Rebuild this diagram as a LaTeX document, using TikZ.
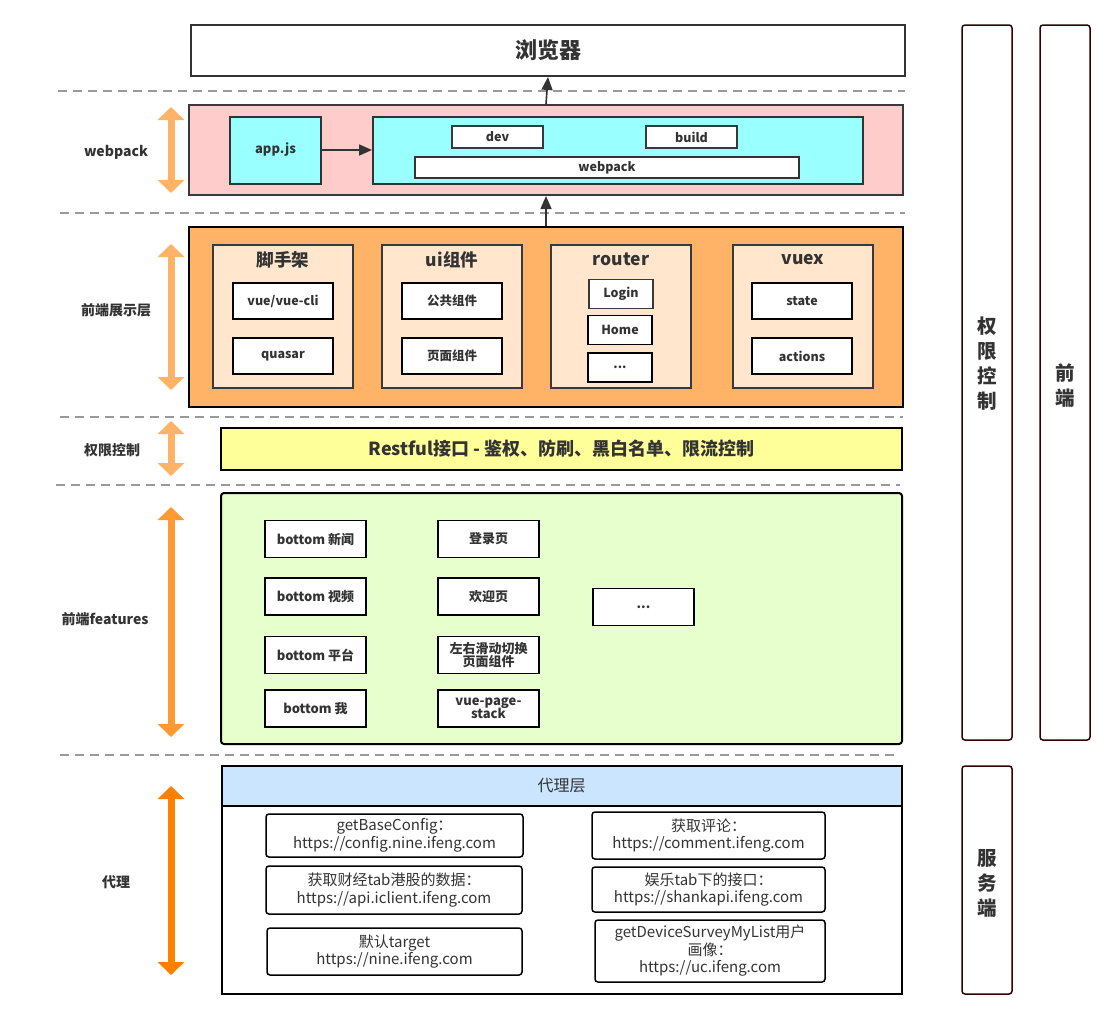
\documentclass[tikz,border=0pt]{standalone}
\usepackage{fontspec}
\setmainfont{Noto Sans CJK SC}
\usetikzlibrary{arrows.meta}
\definecolor{ink}{HTML}{333333}
\definecolor{pinkbg}{HTML}{FFCCCC}
\definecolor{cyanbg}{HTML}{99FFFF}
\definecolor{orangebg}{HTML}{FFB366}
\definecolor{peach}{HTML}{FFE6CC}
\definecolor{lemon}{HTML}{FFFF99}
\definecolor{lime}{HTML}{E6FFCC}
\definecolor{sky}{HTML}{CCE5FF}
\definecolor{maroon}{HTML}{330000}
\definecolor{edgegray}{HTML}{36393D}
\definecolor{lanemid}{HTML}{FF9933}
\definecolor{lanedark}{HTML}{FF8000}
\tikzset{
  wh/.style 2 args={minimum width=#1pt,minimum height=#2pt},
  fs/.style 2 args={font=\bfseries\fontsize{#1}{#2}\selectfont},
  wbox/.style={draw=black,line width=1.8pt,fill=white},
  grpbox/.style={draw=edgegray,line width=1.5pt,fill=peach},
  proxbox/.style={draw=black,line width=1.5pt,fill=white,rounded corners=3pt,font=\fontsize{15}{17.5}\selectfont},
  sidebox/.style={draw=maroon,line width=1.5pt,fill=white,rounded corners=3pt},
  sep/.style={draw=gray!80,line width=1.2pt,dash pattern=on 9pt off 6pt},
  lane/.style={line width=7pt,draw=#1,{Triangle[width=26pt,length=13pt]}-{Triangle[width=26pt,length=13pt]}},
  arr/.style={draw=ink,line width=1.6pt,-{Triangle[width=11pt,length=13pt]}}
}
\begin{document}
\begin{tikzpicture}[x=1pt,y=-1pt,every node/.style={text=ink,inner sep=0pt,align=center}]
\useasboundingbox (0,0) rectangle (1115,1018);

\draw[sep] (58,91) -- (905,91);
\draw[sep] (60,213) -- (905,213);
\draw[sep] (60,417) -- (903,417);
\draw[sep] (56,485) -- (900,485);
\draw[sep] (60,755) -- (895,755);

\node[fs={14}{17}] (lwebpack) at (116,152) {webpack};
\node[fs={14}{17}] (lshow) at (116,310) {前端展示层};
\node[fs={14}{17}] (lauth) at (112,450) {权限控制};
\node[fs={14}{17}] (lfeat) at (105,619) {前端features};
\node[fs={14}{17}] (lproxy) at (116,882) {代理};
\draw[lane=orangebg] (171,107) -- (171,193);
\draw[lane=orangebg] (171,244) -- (171,390);
\draw[lane=orangebg] (171,421) -- (171,476);
\draw[lane=lanemid] (171,507) -- (171,737);
\draw[lane=lanedark] (171,786) -- (171,975);

\node[wbox,draw=ink,line width=2pt,wh={714}{51},fs={22}{26}] (browser) at (548,50.5) {浏览器};

\node[draw=edgegray,line width=2pt,fill=pinkbg,wh={714}{90}] (pack) at (546,150) {};
\node[draw=ink,line width=2pt,fill=cyanbg,wh={91}{67},fs={13}{15}] (appjs) at (275.5,150) {app.js};
\node[draw=ink,line width=2pt,fill=cyanbg,wh={490}{67}] (tools) at (618,150) {};
\node[draw=edgegray,line width=1.8pt,fill=white,wh={91}{22},fs={12.5}{15}] (dev) at (497.5,137) {dev};
\node[draw=edgegray,line width=1.8pt,fill=white,wh={91}{22},fs={12.5}{15}] (build) at (691.5,137) {build};
\node[wbox,draw=ink,wh={384}{21},fs={12.5}{15}] (wpin) at (607,167.5) {webpack};
\draw[arr] (appjs) -- (tools);
\draw[arr] (pack.north) -- (browser.south);

\node[draw=black,line width=2.5pt,fill=orangebg,wh={714}{180}] (show) at (546,317) {};
\draw[arr] (show.north) -- (pack.south);

\node[grpbox,wh={140}{143}] (scaf) at (283,316.5) {};
\node[fs={17.5}{20}] (scaft) at (283,259.5) {脚手架};
\node[wbox,wh={100}{36},fs={12.5}{14}] (vuecli) at (283,301) {vue/vue-cli};
\node[wbox,wh={100}{36},fs={12.5}{14}] (quasar) at (283,356) {quasar};

\node[grpbox,wh={140}{143}] (ui) at (452,316.5) {};
\node[fs={17.5}{20}] (uit) at (452,259.5) {ui组件};
\node[wbox,wh={100}{36},fs={12.5}{14}] (common) at (452,301) {公共组件};
\node[wbox,wh={100}{36},fs={12.5}{14}] (pagecomp) at (452,356) {页面组件};

\node[grpbox,wh={140}{143}] (router) at (621,316.5) {};
\node[fs={17.5}{20}] (routert) at (621,259.5) {router};
\node[wbox,draw=edgegray,wh={64}{29},fs={12.5}{14}] (login) at (621,294) {Login};
\node[wbox,wh={64}{29},fs={12.5}{14}] (home) at (620,330) {Home};
\node[wbox,wh={64}{29},fs={12.5}{14}] (rmore) at (620,367.5) {...};

\node[grpbox,wh={140}{143}] (vuex) at (803,316.5) {};
\node[fs={17.5}{20}] (vuext) at (803,259.5) {vuex};
\node[wbox,wh={100}{36},fs={12.5}{14}] (state) at (802,301) {state};
\node[wbox,wh={100}{36},fs={12.5}{14}] (actions) at (802,356) {actions};

\node[draw=black,line width=2.5pt,fill=lemon,wh={681}{42},fs={18}{21}] (rest) at (561.5,449) {Restful接口 - 鉴权、防刷、黑白名单、限流控制};

\node[draw=black,line width=2pt,fill=lime,rounded corners=3pt,wh={681}{251}] (feat) at (561.5,618.5) {};
\node[wbox,wh={101}{37},fs={13}{15}] (news) at (315.5,539) {bottom 新闻};
\node[wbox,wh={101}{37},fs={13}{15}] (video) at (315.5,596.5) {bottom 视频};
\node[wbox,wh={101}{37},fs={13}{15}] (plat) at (315.5,655) {bottom 平台};
\node[wbox,wh={101}{37},fs={13}{15}] (me) at (315.5,708.5) {bottom 我};
\node[wbox,wh={101}{37},fs={13}{15}] (loginpg) at (488.5,539) {登录页};
\node[wbox,wh={101}{37},fs={13}{15}] (welcome) at (488.5,596.5) {欢迎页};
\node[wbox,wh={101}{37},fs={13}{13.5}] (slide) at (488.5,655) {左右滑动切换\\页面组件};
\node[wbox,wh={101}{37},fs={13}{13.5}] (stack) at (488.5,708.5) {vue-page-\\stack};
\node[wbox,wh={101}{37},fs={13}{15}] (fmore) at (643.5,607) {...};

\node[draw=black,line width=2pt,fill=white,wh={680}{228}] (proxy) at (561.5,880) {};
\node[draw=black,line width=2pt,fill=sky,wh={680}{40},font=\fontsize{16}{18}\selectfont] (proxyhd) at (561.5,786) {代理层};
\node[proxbox,wh={257}{43}] (base) at (394.5,835.5) {getBaseConfig：\\https://config.nine.ifeng.com};
\node[proxbox,wh={256}{48}] (stock) at (394,890) {获取财经tab港股的数据：\\https://api.iclient.ifeng.com};
\node[proxbox,wh={255}{47}] (deftgt) at (394.5,951.5) {默认target\\https://nine.ifeng.com};
\node[proxbox,wh={233}{47}] (comment) at (708.5,835.5) {获取评论：\\https://comment.ifeng.com};
\node[proxbox,wh={233}{45}] (shank) at (708.5,889.5) {娱乐tab下的接口：\\https://shankapi.ifeng.com};
\node[proxbox,wh={230}{62}] (survey) at (710,951) {getDeviceSurveyMyList用户\\画像：\\https://uc.ifeng.com};

\node[sidebox,wh={50}{715}] (authside) at (987,382.5) {};
\node[fs={19.5}{25}] (authtxt) at (987,364) {权\\限\\控\\制};
\node[sidebox,wh={50}{715}] (frontside) at (1065,382.5) {};
\node[fs={19.5}{25}] (fronttxt) at (1065,386) {前\\端};
\node[sidebox,wh={50}{228}] (serverside) at (987,880) {};
\node[fs={19.5}{25}] (servertxt) at (987,883) {服\\务\\端};
\end{tikzpicture}
\end{document}
